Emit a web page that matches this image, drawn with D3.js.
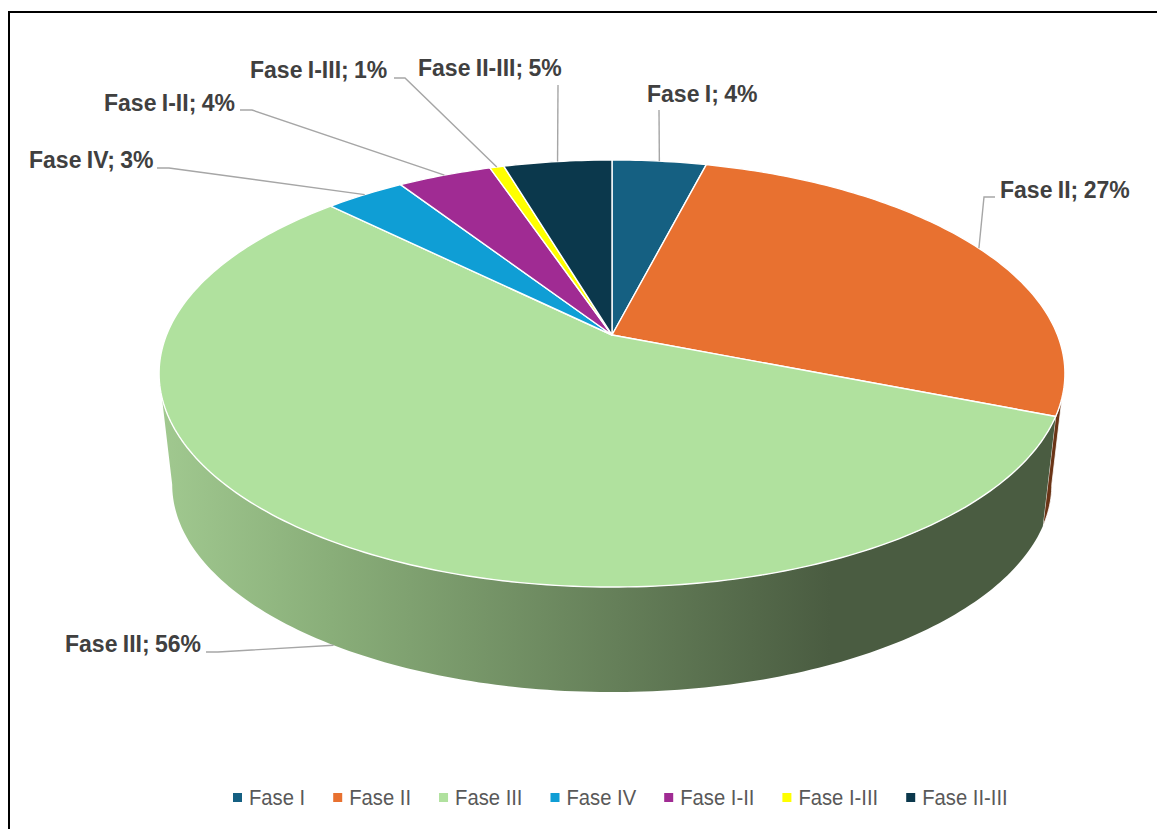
<!DOCTYPE html>
<html>
<head>
<meta charset="utf-8">
<script src="https://cdn.jsdelivr.net/npm/d3@7"></script>
<style>
  body { margin: 0; background: #fff; }
  text { font-family: "Liberation Sans Narrow", "Liberation Sans", sans-serif; }
</style>
</head>
<body>
<script>
// Values (the labels show them rounded)
var categories = ["Fase I", "Fase II", "Fase III", "Fase IV", "Fase I-II", "Fase I-III", "Fase II-III"];
var shares = [4.0, 27.0, 56.4, 3.4, 4.0, 0.6, 4.6];
var colors = ["#156082", "#E87130", "#B0E19E", "#0F9ED5", "#A02B93", "#FFFF00", "#0B384C"];

// Label placement: text anchor and leader elbow per category
var labelAnchors = [[647, 94], [1000, 190], [65, 644], [29, 160], [104, 103], [250, 70], [418, 68]];
var leaderStarts = [[659, 110], [995, 197], [206, 652], [157, 168], [240, 110], [394, 78], [558, 85]];
var leaderElbows = [[659, 110], [984, 197], [218, 652], [169, 168], [252, 110], [405, 78], [558, 85]];

var width = 1157, height = 829;

var svg = d3.select("body").append("svg")
    .attr("width", width)
    .attr("height", height)
    .style("display", "block");

// Chart frame, only the left and top edges are in the shot
svg.append("path")
    .attr("d", "M9,829V12H1157")
    .attr("fill", "none")
    .attr("stroke", "#000")
    .attr("stroke-width", 2);

// The pie is a tilted disc seen in perspective
var cx = 612, persp = 0.1803;
var topPlane = {apexY: 335, rx: 445.5, ry: 206.6};
var bottomPlane = {apexY: 447, rx: 432.6, ry: 200.9};

// Angles where the wall turns out of sight
var wallStart = Math.acos(-persp), wallEnd = 2 * Math.PI - wallStart;

function project(plane, angle) {
  var X = Math.sin(angle), Y = Math.cos(angle), w = 1 + persp * Y;
  return [cx + plane.rx * X / w, plane.apexY - plane.ry * Y / w];
}

function rimPoints(plane, a0, a1) {
  var n = Math.max(2, Math.ceil((a1 - a0) * 60));
  return d3.range(n + 1).map(function(i) {
    return project(plane, a0 + (a1 - a0) * i / n);
  });
}

var pie = d3.pie().sort(null).value(function(d) { return d; });
var arcs = pie(shares);
var line = d3.line();

// Shading on the side of the big slice
var gradient = svg.append("defs").append("linearGradient")
    .attr("id", "sideShade")
    .attr("gradientUnits", "userSpaceOnUse")
    .attr("x1", 165).attr("x2", 830)
    .attr("y1", 0).attr("y2", 0);
gradient.append("stop").attr("offset", "0%").attr("stop-color", "#A0C88F");
gradient.append("stop").attr("offset", "25%").attr("stop-color", "#89AE79");
gradient.append("stop").attr("offset", "100%").attr("stop-color", "#4A5C41");

// Side walls first, only the front facing part of each slice
svg.append("g").selectAll("path")
    .data(arcs)
    .enter().append("path")
    .filter(function(d) { return d.endAngle > wallStart && d.startAngle < wallEnd; })
    .attr("d", function(d) {
      var a0 = Math.max(d.startAngle, wallStart), a1 = Math.min(d.endAngle, wallEnd);
      var upper = rimPoints(topPlane, a0, a1);
      var lower = rimPoints(bottomPlane, a0, a1).reverse();
      return line(upper.concat(lower)) + "Z";
    })
    .attr("fill", function(d) {
      return d.index === 2 ? "url(#sideShade)" : d3.color(colors[d.index]).darker(2.2);
    })
    .attr("stroke", function(d) { return d.index === 2 ? "none" : "#fff"; })
    .attr("stroke-width", 0.8);

// Top face
svg.append("g").selectAll("path")
    .data(arcs)
    .enter().append("path")
    .attr("d", function(d) {
      var rim = rimPoints(topPlane, d.startAngle, d.endAngle);
      return line([[cx, topPlane.apexY]].concat(rim)) + "Z";
    })
    .attr("fill", function(d, i) { return colors[i]; })
    .attr("stroke", "#fff")
    .attr("stroke-width", 1.4)
    .attr("stroke-linejoin", "round");

// Leader lines, from label to the rim. The big slice ends on the lower rim.
function leaderEnd(d, i) {
  var mid = (d.startAngle + d.endAngle) / 2;
  return project(i === 2 ? bottomPlane : topPlane, mid);
}

svg.append("g").selectAll("path")
    .data(arcs)
    .enter().append("path")
    .attr("d", function(d, i) {
      return line([leaderStarts[i], leaderElbows[i], leaderEnd(d, i)]);
    })
    .attr("fill", "none")
    .attr("stroke", "#A6A6A6")
    .attr("stroke-width", 1.4);

// Data labels
svg.append("g").selectAll("text")
    .data(arcs)
    .enter().append("text")
    .attr("x", function(d, i) { return labelAnchors[i][0]; })
    .attr("y", function(d, i) { return labelAnchors[i][1]; })
    .attr("dy", "0.35em")
    .attr("fill", "#404040")
    .style("font-size", "23px")
    .style("font-weight", "bold")
    .style("word-spacing", "-1px")
    .text(function(d, i) { return categories[i] + "; " + Math.round(d.value) + "%"; });

// Legend, laid out left to right from the measured text widths
var legendX = 233, legendY = 797, squeeze = 0.92;
var legend = svg.append("g");
categories.forEach(function(name, i) {
  legend.append("rect")
      .attr("x", legendX)
      .attr("y", legendY - 4)
      .attr("width", 9)
      .attr("height", 9)
      .attr("fill", colors[i]);
  var label = legend.append("text")
      .attr("transform", "translate(" + (legendX + 16) + "," + legendY + ") scale(" + squeeze + ",1)")
      .attr("dy", "0.35em")
      .attr("fill", "#595959")
      .style("font-size", "22px")
      .text(name);
  legendX += 16 + label.node().getComputedTextLength() * squeeze + 28;
});
</script>
</body>
</html>
